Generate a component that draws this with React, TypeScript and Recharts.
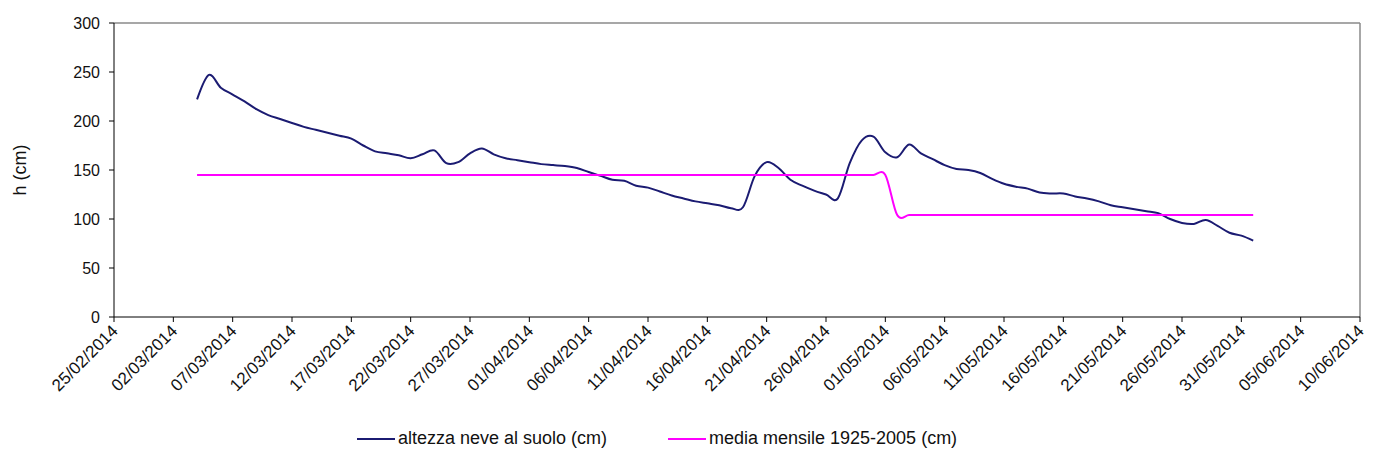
import React from 'react';
import { LineChart, Line, XAxis, YAxis, Legend, ReferenceLine } from 'recharts';

// Date tick labels along the x axis (every 5 days)
const tickDates = [
  '25/02/2014', '02/03/2014', '07/03/2014', '12/03/2014', '17/03/2014', '22/03/2014',
  '27/03/2014', '01/04/2014', '06/04/2014', '11/04/2014', '16/04/2014', '21/04/2014',
  '26/04/2014', '01/05/2014', '06/05/2014', '11/05/2014', '16/05/2014', '21/05/2014',
  '26/05/2014', '31/05/2014', '05/06/2014', '10/06/2014',
];

const yTicks = [0, 50, 100, 150, 200, 250, 300];

// First day of the daily series
const firstDate = '04/03/2014';

// Daily snow depth (cm), 04/03/2014 .. 01/06/2014
const snowDepth = [
  222, 247, 234, 227, 220, 212, 206, 202, 198, 194,
  191, 188, 185, 182, 175, 169, 167, 165, 162, 166,
  170, 157, 158, 167, 172, 166, 162, 160, 158, 156,
  155, 154, 152, 148, 144, 140, 139, 134, 132, 128,
  124, 121, 118, 116, 114, 111, 112, 144, 158, 152,
  140, 134, 129, 125, 121, 157, 180, 184, 168, 163,
  176, 167, 161, 155, 151, 150, 147, 141, 136, 133,
  131, 127, 126, 126, 123, 121, 118, 114, 112, 110,
  108, 106, 100, 96, 95, 99, 93, 86, 83, 78,
];

// Monthly mean 1925-2005 (cm), same days
const monthlyMean = [
  145, 145, 145, 145, 145, 145, 145, 145, 145, 145,
  145, 145, 145, 145, 145, 145, 145, 145, 145, 145,
  145, 145, 145, 145, 145, 145, 145, 145, 145, 145,
  145, 145, 145, 145, 145, 145, 145, 145, 145, 145,
  145, 145, 145, 145, 145, 145, 145, 145, 145, 145,
  145, 145, 145, 145, 145, 145, 145, 145, 145, 104,
  104, 104, 104, 104, 104, 104, 104, 104, 104, 104,
  104, 104, 104, 104, 104, 104, 104, 104, 104, 104,
  104, 104, 104, 104, 104, 104, 104, 104, 104, 104,
];

const DAY_MS = 86400000;
const toDay = (s: string) => {
  const [d, m, y] = s.split('/').map(Number);
  return Date.UTC(y, m - 1, d) / DAY_MS;
};

const startDay = toDay(firstDate);
const data = snowDepth.map((v, i) => ({ day: startDay + i, snow: v, mean: monthlyMean[i] }));
const tickDays = tickDates.map(toDay);
const labelOf = new Map<number, string>(tickDays.map((d, i) => [d, tickDates[i]]));

// Smoothed line (cardinal spline, tension 0) similar to spreadsheet smoothing
class CardinalCurve {
  _context: any;
  _k: number;
  _line = NaN;
  _point = 0;
  _x0 = NaN; _x1 = NaN; _x2 = NaN;
  _y0 = NaN; _y1 = NaN; _y2 = NaN;
  constructor(context: any, tension: number) {
    this._context = context;
    this._k = (1 - tension) / 6;
  }
  areaStart() { this._line = 0; }
  areaEnd() { this._line = NaN; }
  lineStart() {
    this._x0 = this._x1 = this._x2 = this._y0 = this._y1 = this._y2 = NaN;
    this._point = 0;
  }
  lineEnd() {
    switch (this._point) {
      case 2: this._context.lineTo(this._x2, this._y2); break;
      case 3: this._bez(this._x1, this._y1); break;
    }
    if (this._line || (this._line !== 0 && this._point === 1)) this._context.closePath();
    this._line = 1 - this._line;
  }
  _bez(x: number, y: number) {
    this._context.bezierCurveTo(
      this._x1 + this._k * (this._x2 - this._x0),
      this._y1 + this._k * (this._y2 - this._y0),
      this._x2 + this._k * (this._x1 - x),
      this._y2 + this._k * (this._y1 - y),
      this._x2,
      this._y2,
    );
  }
  point(x: number, y: number) {
    x = +x; y = +y;
    switch (this._point) {
      case 0:
        this._point = 1;
        if (this._line) this._context.lineTo(x, y); else this._context.moveTo(x, y);
        break;
      case 1:
        this._point = 2; this._x1 = x; this._y1 = y;
        break;
      case 2:
        this._point = 3;
        this._bez(x, y);
        break;
      default:
        this._bez(x, y);
        break;
    }
    this._x0 = this._x1; this._x1 = this._x2; this._x2 = x;
    this._y0 = this._y1; this._y1 = this._y2; this._y2 = y;
  }
}
const smoothCurve: any = (context: any) => new CardinalCurve(context, 0);

const FONT = '"Liberation Sans", Arial, sans-serif';
const BLUE = '#1b1b72';
const MAGENTA = '#ff00ff';

const DateTick = (props: any) => {
  const { x, y, payload } = props;
  const label = labelOf.get(payload.value) ?? '';
  return (
    <text
      x={x + 5}
      y={y + 8}
      transform={`rotate(-45, ${x + 5}, ${y + 8})`}
      textAnchor="end"
      fontSize={17}
      fontFamily={FONT}
      fill="#111"
    >
      {label}
    </text>
  );
};

const LegendBox = (props: any) => {
  const items = props.payload || [];
  const positions = [357, 668];
  return (
    <div style={{ position: 'relative', height: 30, width: 1379, fontFamily: FONT, fontSize: 18, color: '#111' }}>
      {items.map((it: any, i: number) => (
        <div key={i} style={{ position: 'absolute', left: positions[i], top: 4, display: 'flex', alignItems: 'center', whiteSpace: 'nowrap' }}>
          <span style={{ display: 'inline-block', width: 38, height: 2, background: it.color, marginRight: 3 }} />
          <span>{it.value}</span>
        </div>
      ))}
    </div>
  );
};

export default function App() {
  return (
    <div style={{ position: 'absolute', left: 0, top: 0, background: '#fff' }}>
      <LineChart
        width={1379}
        height={462}
        data={data}
        margin={{ top: 23, right: 19, bottom: 8, left: 0 }}
      >
        <XAxis
          dataKey="day"
          type="number"
          domain={[tickDays[0], tickDays[tickDays.length - 1]]}
          ticks={tickDays}
          interval={0}
          height={107}
          stroke="#000"
          tickSize={5}
          tick={<DateTick />}
          allowDataOverflow
        />
        <YAxis
          type="number"
          domain={[0, 300]}
          ticks={yTicks}
          interval={0}
          width={114}
          stroke="#000"
          tickSize={5}
          tickMargin={9}
          tick={{ fontSize: 16, fontFamily: FONT, fill: '#111' }}
          label={{ value: 'h (cm)', angle: -90, position: 'center', dx: -37, fontSize: 18, fontFamily: FONT, fill: '#111' }}
        />
        <ReferenceLine y={300} stroke="#8a8a8a" strokeWidth={1.5} />
        <ReferenceLine x={tickDays[tickDays.length - 1]} stroke="#8a8a8a" strokeWidth={1.5} />
        <Legend verticalAlign="bottom" wrapperStyle={{ left: 0, width: 1379 }} content={<LegendBox />} />
        <Line
          dataKey="snow"
          name="altezza neve al suolo (cm)"
          type={smoothCurve}
          stroke={BLUE}
          strokeWidth={2}
          dot={false}
          activeDot={false}
          isAnimationActive={false}
        />
        <Line
          dataKey="mean"
          name="media mensile 1925-2005 (cm)"
          type={smoothCurve}
          stroke={MAGENTA}
          strokeWidth={2}
          dot={false}
          activeDot={false}
          isAnimationActive={false}
        />
      </LineChart>
    </div>
  );
}
